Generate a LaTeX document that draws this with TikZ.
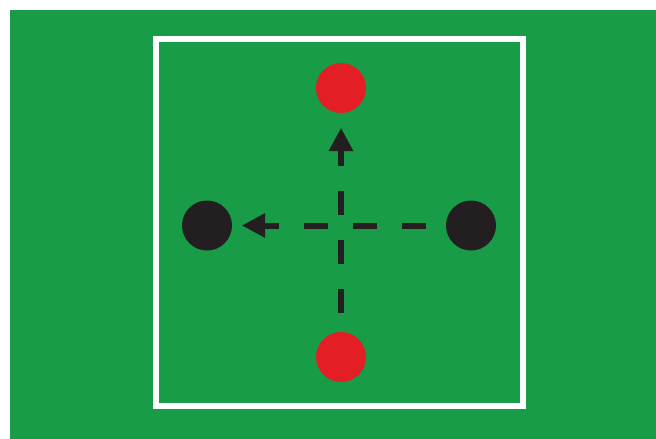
\documentclass[tikz,border=0pt]{standalone}
\usetikzlibrary{arrows.meta}
\definecolor{pitch}{RGB}{24,156,72}
\definecolor{redp}{RGB}{227,30,37}
\definecolor{blackp}{RGB}{35,31,32}
\tikzset{
  player/.style={circle, minimum size=50pt, inner sep=0pt, draw=none},
  redplayer/.style={player, fill=redp},
  blackplayer/.style={player, fill=blackp},
  pass/.style={draw=blackp, line width=6pt, dash pattern=on 24pt off 25pt,
    -{Triangle[length=23pt, width=25pt, line width=0pt]}},
}
\begin{document}
\begin{tikzpicture}[x=1pt, y=-1pt]
\useasboundingbox (0,0) rectangle (656,439);
\fill[white] (0,0) rectangle (656,439);
\fill[pitch] (10,10) rectangle (656,439);
\draw[white, line width=6pt] (156,39) rectangle (522.5,405.5);
\node[redplayer] (top) at (341,88) {};
\node[redplayer] (bottom) at (341,357) {};
\node[blackplayer] (left) at (207,225.5) {};
\node[blackplayer] (right) at (471,225.5) {};
\draw[pass, shorten <=20pt, shorten >=10pt] (right) -- (left);
\draw[pass, shorten <=19pt, shorten >=15pt] (bottom) -- (top);
\end{tikzpicture}
\end{document}
